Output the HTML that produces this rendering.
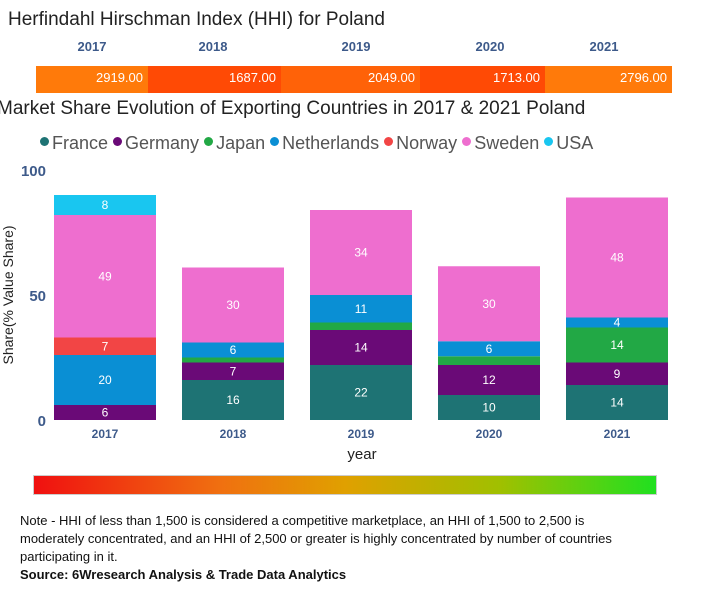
<!DOCTYPE html>
<html><head><meta charset="utf-8"><style>
body{margin:0;width:713px;height:600px;background:#fff;font-family:"Liberation Sans",sans-serif;position:relative;overflow:hidden}
.abs{position:absolute}
.yr{position:absolute;top:39px;font-size:13px;font-weight:bold;color:#3d5a8a;transform:translateX(-50%)}
.seg{position:absolute;top:66px;height:27px}
.val{position:absolute;top:70px;font-size:13px;color:#fff;text-align:right}
</style></head><body>
<div class="abs" style="left:8px;top:9px;font-size:19px;color:#222">Herfindahl Hirschman Index (HHI) for Poland</div>
<div id="hhi"></div>
<div class="abs" style="left:-3px;top:98px;font-size:19px;color:#222;white-space:nowrap">Market Share Evolution of Exporting Countries in 2017 &amp; 2021 Poland</div>
<div id="legend" class="abs" style="left:40px;top:133px;font-size:18px;color:#555;white-space:nowrap"></div>
<svg id="chart" class="abs" style="left:0;top:160px" width="713" height="310"></svg>
<div class="abs" style="left:33px;top:475px;width:622px;height:18px;background:linear-gradient(to right,#f01010,#f07010 30%,#e0a000 50%,#a0c000 75%,#20e020);border:1px solid #ccc"></div>
<div class="abs" style="left:20px;top:512px;width:618px;font-size:13px;line-height:18px;color:#111">Note - HHI of less than 1,500 is considered a competitive marketplace, an HHI of 1,500 to 2,500 is moderately concentrated, and an HHI of 2,500 or greater is highly concentrated by number of countries participating in it.<br><b>Source: 6Wresearch Analysis &amp; Trade Data Analytics</b></div>
<script>
const years=["2017","2018","2019","2020","2021"];
const hhiValues=[2919,1687,2049,1713,2796];
const countries=["France","Germany","Japan","Netherlands","Norway","Sweden","USA"];
const colors=["#1e7374","#6a0a77","#22a845","#0a8fd4","#f24545","#ee6ecf","#19c6f0"];
const France=[0,16,22,10,14];
const Germany=[6,7,14,12,9];
const Japan=[0,2,3,3.5,14];
const Netherlands=[20,6,11,6,4];
const Norway=[7,0,0,0,0];
const Sweden=[49,30,34,30,48];
const USA=[8,0,0,0,0];
const series=[France,Germany,Japan,Netherlands,Norway,Sweden,USA];
const yTicks=[0,50,100];

const hb=[36,148,281,420,545,672];
const hhi=document.getElementById('hhi');
years.forEach((y,i)=>{
  const s=document.createElement('div');s.className='seg';
  
  
  s.style.left=hb[i]+'px';s.style.width=(hb[i+1]-hb[i])+'px';
  s.style.background=hhiValues[i]<2000?'#ff4a05':(hhiValues[i]<2500?'#ff6208':'#ff7a0a');
  hhi.appendChild(s);
  const v=document.createElement('div');v.className='val';
  
  
  v.style.left=hb[i]+'px';v.style.width=(hb[i+1]-hb[i]-5)+'px';
  v.textContent=hhiValues[i].toFixed(2);hhi.appendChild(v);
  const t=document.createElement('div');t.className='yr';
  
  
  t.style.left=[92,213,356,490,604][i]+'px';t.textContent=y;hhi.appendChild(t);
});
const lg=document.getElementById('legend');
countries.forEach((c,i)=>{
  const e=document.createElement('span');
  
  
  e.style.marginRight='5px';
  e.innerHTML='<span style="display:inline-block;width:9px;height:9px;border-radius:50%;background:'+colors[i]+';margin-right:3px;vertical-align:3px"></span>'+c;
  lg.appendChild(e);
});
const svg=document.getElementById('chart');const NS='http://www.w3.org/2000/svg';
const y0=260,ppu=2.5;
const ys=v=>y0-v*ppu;
const xs=i=>54+i*128;const bw=102;
function el(t,a,txt){const e=document.createElementNS(NS,t);for(const k in a)e.setAttribute(k,a[k]);if(txt!=null)e.textContent=txt;svg.appendChild(e);return e;}
yTicks.forEach(t=>{const e=el('text',{x:46,y:ys(t)+6,'text-anchor':'end','font-size':15,'font-weight':'bold',fill:'#3d5a8a'},t);

});
const yl=el('text',{transform:'translate(13,135) rotate(-90)','text-anchor':'middle','font-size':14,fill:'#222'},'Share(% Value Share)');


years.forEach((y,i)=>{
  let acc=0;
  series.forEach((s,k)=>{
    const v=s[i];if(!v)return;
    const r=el('rect',{x:xs(i),y:ys(acc+v),width:bw,height:v*ppu,fill:colors[k]});
    
    
    if(v>=4){const t=el('text',{x:xs(i)+bw/2,y:ys(acc+v/2)+4,'text-anchor':'middle','font-size':12,fill:'#fff'},Math.round(v));
    
    }
    acc+=v;
  });
  const xl=el('text',{x:xs(i)+bw/2,y:278,'text-anchor':'middle','font-size':12,'font-weight':'bold',fill:'#3d5a8a'},y);
  
  
});
const xt=el('text',{x:362,y:299,'text-anchor':'middle','font-size':15,fill:'#222'},'year');


</script>
</body></html>
